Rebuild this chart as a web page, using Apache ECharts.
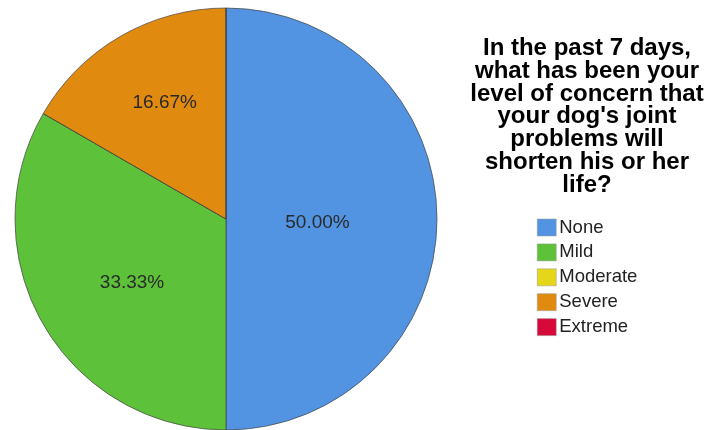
<!DOCTYPE html>
<html>
<head>
<meta charset="utf-8">
<script src="https://cdn.jsdelivr.net/npm/echarts@6/dist/echarts.min.js"></script>
<style>html,body{margin:0;padding:0;background:#fff}#c{width:710px;height:430px}</style>
</head>
<body>
<div id="c"></div>
<script>
const categories = ['None', 'Mild', 'Moderate', 'Severe', 'Extreme'];
const counts = [3, 2, 0, 1, 0];
const colors = ['#5294E2', '#5EC13A', '#E6D619', '#E08A10', '#D60A3A'];
const titleLines = ['In the past 7 days,', 'what has been your', 'level of concern that', 'your dog\'s joint', 'problems will', 'shorten his or her', 'life?'];
// label nudges (style only)
const labelNudge = [[-17, 4], [0, 10], [0, 0], [-7, -22], [0, 0]];

const chart = echarts.init(document.getElementById('c'), null, {renderer: 'canvas'});
chart.setOption({
  animation: false,
  backgroundColor: '#fff',
  title: {
    text: titleLines.join('\n'),
    left: 582, top: 32, textAlign: 'center',
    textStyle: {fontFamily: 'Liberation Sans, Arial', fontWeight: 'bold', fontSize: 24, lineHeight: 22.8, color: '#000'}
  },
  legend: {
    orient: 'vertical', left: 532, top: 213,
    itemWidth: 19, itemHeight: 17, itemGap: 5.9,
    icon: 'rect',
    data: categories,
    textStyle: {fontFamily: 'Liberation Sans, Arial', fontSize: 18.5, lineHeight: 17, color: '#222', padding: [0,0,0,-2]},
    itemStyle: {borderColor: '#999', borderWidth: 0.5}
  },
  series: [{
    type: 'pie',
    center: [226, 219], radius: [0, 211],
    startAngle: 90, clockwise: true,
    avoidLabelOverlap: false,
    itemStyle: {borderColor: '#444', borderWidth: 0.7},
    label: {
      show: true, position: 'inside',
      fontFamily: 'Liberation Sans, Arial', fontSize: 19, color: '#2a2a2a',
      formatter: p => p.value === 0 ? '' : p.percent.toFixed(2) + '%'
    },
    labelLine: {show: false},
    emphasis: {disabled: true},
    data: categories.map((n, i) => ({name: n, value: counts[i], itemStyle: {color: colors[i]}, label: {offset: labelNudge[i]}}))
  }]
});
</script>
</body>
</html>
